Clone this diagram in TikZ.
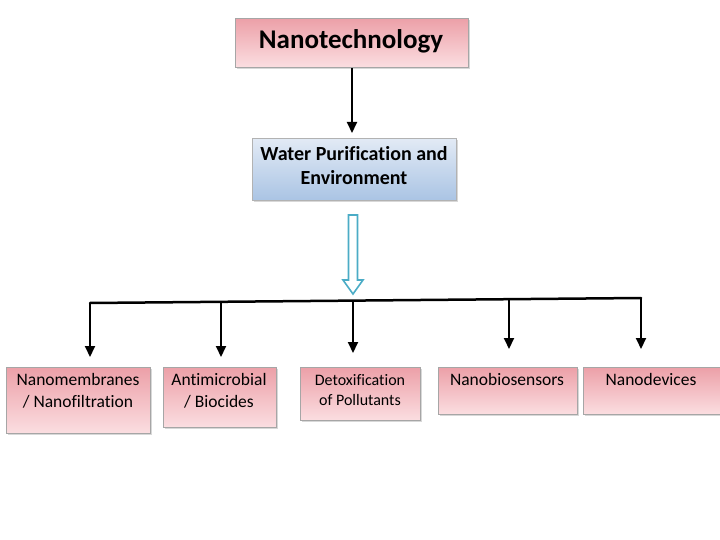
\documentclass[tikz,border=0pt]{standalone}
\usepackage{fontspec}
\setmainfont[Ligatures=CommonOff]{Carlito}
\usetikzlibrary{arrows.meta,shadows}
\definecolor{pinktop}{RGB}{236,160,168}
\definecolor{pinkbot}{RGB}{251,222,225}
\definecolor{bluetop}{RGB}{226,234,245}
\definecolor{bluebot}{RGB}{170,196,228}
\definecolor{teal}{RGB}{75,172,198}
\begin{document}
\begin{tikzpicture}[x=1pt,y=-1pt,
  pinkbox/.style={draw=black!35,line width=0.8pt,top color=pinktop,bottom color=pinkbot,
    drop shadow={shadow xshift=1.5pt,shadow yshift=-1.5pt,fill=black!30},inner sep=0pt,anchor=north west},
  bluebox/.style={draw=black!30,line width=0.8pt,top color=bluetop,bottom color=bluebot,
    drop shadow={shadow xshift=1.5pt,shadow yshift=-1.5pt,fill=black!30},inner sep=0pt,anchor=north west},
  blk/.style={line width=2pt,-{Triangle[width=10pt,length=11pt]}},
  lbl/.style={font=\fontsize{17.5}{22}\selectfont,align=center,anchor=north,inner sep=0pt}
]
\useasboundingbox (0,0) rectangle (720,540);
% top boxes
\node[pinkbox,minimum width=233pt,minimum height=49pt] (nano) at (235,18) {};
\node[font=\fontsize{27}{30}\selectfont\bfseries] (nanot) at (351,41) {Nanotechnology};
\node[bluebox,minimum width=204pt,minimum height=62pt] (water) at (252,138) {};
\node[font=\fontsize{20}{24}\selectfont\bfseries,align=center] (watert) at (354,166) {Water Purification and\\Environment};
\coordinate (a0) at (352,68);
\coordinate (a1) at (352,133);
\draw[blk] (a0) -- (a1);
% hollow arrow
\coordinate (h0) at (353,215);
\coordinate (h1) at (353,295);
\draw[draw=teal,line width=1.6pt,fill=white,line join=miter]
  (348.5,215) -- (357.5,215) -- (357.5,280) -- (363,280) -- (353,294) -- (343,280) -- (348.5,280) -- cycle;
% bottom boxes
\node[pinkbox,minimum width=144pt,minimum height=66pt] (b1) at (6,367) {};
\node[pinkbox,minimum width=113pt,minimum height=60pt] (b2) at (163,367) {};
\node[pinkbox,minimum width=120pt,minimum height=53pt] (b3) at (300,367) {};
\node[pinkbox,minimum width=139pt,minimum height=47pt] (b4) at (438,367) {};
\node[pinkbox,minimum width=140pt,minimum height=47pt] (b5) at (583,367) {};
\node[lbl] (t1) at (78,373) {Nanomembranes\\/ Nanofiltration};
\node[lbl] (t2) at (219,373) {Antimicrobial\\/ Biocides};
\node[lbl,font=\fontsize{16}{20}\selectfont] (t3) at (360,374) {Detoxification\\of Pollutants};
\node[lbl] (t4) at (507,373) {Nanobiosensors};
\node[lbl] (t5) at (651,373) {Nanodevices};
% bus
\coordinate (L) at (90,303);
\coordinate (R) at (641,298);
\draw[line width=2.5pt,line cap=round] (L) -- (R);
\coordinate (d1a) at (90,303);   \coordinate (d1b) at (90,357);
\coordinate (d2a) at (221,302);  \coordinate (d2b) at (221,357);
\coordinate (d3a) at (353,301);  \coordinate (d3b) at (353,353);
\coordinate (d4a) at (509,300);  \coordinate (d4b) at (509,349);
\coordinate (d5a) at (641,298);  \coordinate (d5b) at (641,349);
\draw[blk] (d1a) -- (d1b);
\draw[blk] (d2a) -- (d2b);
\draw[blk] (d3a) -- (d3b);
\draw[blk] (d4a) -- (d4b);
\draw[blk] (d5a) -- (d5b);
\end{tikzpicture}
\end{document}
